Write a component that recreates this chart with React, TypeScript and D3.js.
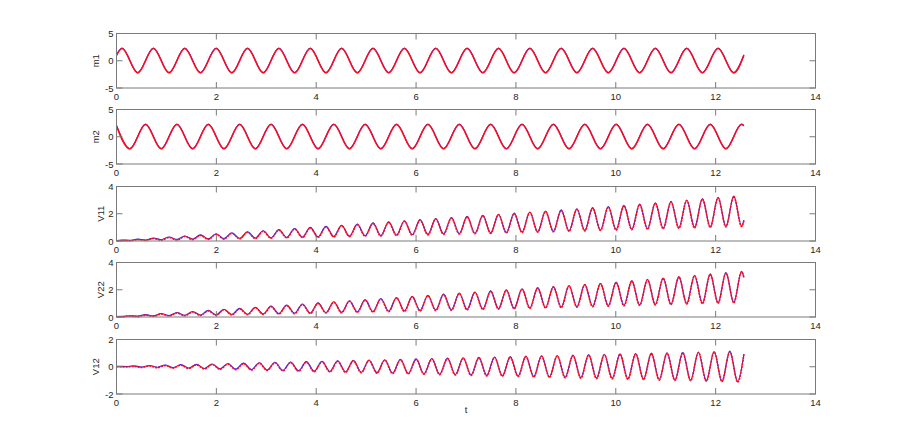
import React from "react";
import * as d3 from "d3";

// ---------- data ----------
const T_START = 0;
const T_END = 12.566;

// extremum times of m1 (peaks/troughs)
const M1_T = [0.111, 0.425, 0.739, 1.053, 1.367, 1.682, 1.996, 2.310, 2.624, 2.938, 3.252, 3.567, 3.881, 4.195, 4.509, 4.823, 5.137, 5.452, 5.766, 6.080, 6.394, 6.708, 7.022, 7.337, 7.651, 7.965, 8.279, 8.593, 8.907, 9.221, 9.536, 9.850, 10.164, 10.478, 10.792, 11.106, 11.421, 11.735, 12.049, 12.363];
const M1_V = [2.24, -2.24, 2.24, -2.24, 2.24, -2.24, 2.24, -2.24, 2.24, -2.24, 2.24, -2.24, 2.24, -2.24, 2.24, -2.24, 2.24, -2.24, 2.24, -2.24, 2.24, -2.24, 2.24, -2.24, 2.24, -2.24, 2.24, -2.24, 2.24, -2.24, 2.24, -2.24, 2.24, -2.24, 2.24, -2.24, 2.24, -2.24, 2.24, -2.24];
const M1_START = 1.0;
const M1_END = 1.0;

// extremum times of m2
const M2_T = [0.268, 0.582, 0.896, 1.210, 1.525, 1.839, 2.153, 2.467, 2.781, 3.095, 3.409, 3.724, 4.038, 4.352, 4.666, 4.980, 5.294, 5.609, 5.923, 6.237, 6.551, 6.865, 7.179, 7.494, 7.808, 8.122, 8.436, 8.750, 9.064, 9.379, 9.693, 10.007, 10.321, 10.635, 10.949, 11.264, 11.578, 11.892, 12.206, 12.520];
const M2_V = [-2.24, 2.24, -2.24, 2.24, -2.24, 2.24, -2.24, 2.24, -2.24, 2.24, -2.24, 2.24, -2.24, 2.24, -2.24, 2.24, -2.24, 2.24, -2.24, 2.24, -2.24, 2.24, -2.24, 2.24, -2.24, 2.24, -2.24, 2.24, -2.24, 2.24, -2.24, 2.24, -2.24, 2.24, -2.24, 2.24, -2.24, 2.24, -2.24, 2.24];
const M2_START = 2.0;
const M2_END = 2.0;

// extremum times shared by V11 and V22
const V_T = [0.111, 0.268, 0.425, 0.582, 0.739, 0.896, 1.053, 1.210, 1.367, 1.525, 1.682, 1.839, 1.996, 2.153, 2.310, 2.467, 2.624, 2.781, 2.938, 3.095, 3.252, 3.409, 3.567, 3.724, 3.881, 4.038, 4.195, 4.352, 4.509, 4.666, 4.823, 4.980, 5.137, 5.294, 5.452, 5.609, 5.766, 5.923, 6.080, 6.237, 6.394, 6.551, 6.708, 6.865, 7.022, 7.179, 7.337, 7.494, 7.651, 7.808, 7.965, 8.122, 8.279, 8.436, 8.593, 8.750, 8.907, 9.064, 9.221, 9.379, 9.536, 9.693, 9.850, 10.007, 10.164, 10.321, 10.478, 10.635, 10.792, 10.949, 11.106, 11.264, 11.421, 11.578, 11.735, 11.892, 12.049, 12.206, 12.363, 12.520];
const V11_V = [0.03, 0.02, 0.10, 0.04, 0.18, 0.06, 0.26, 0.08, 0.33, 0.10, 0.41, 0.12, 0.49, 0.14, 0.57, 0.16, 0.64, 0.18, 0.72, 0.20, 0.80, 0.23, 0.88, 0.25, 0.96, 0.27, 1.04, 0.30, 1.12, 0.32, 1.20, 0.35, 1.29, 0.37, 1.37, 0.40, 1.45, 0.43, 1.53, 0.45, 1.61, 0.48, 1.69, 0.51, 1.77, 0.53, 1.85, 0.56, 1.93, 0.59, 2.01, 0.62, 2.09, 0.65, 2.17, 0.68, 2.25, 0.71, 2.33, 0.74, 2.41, 0.77, 2.49, 0.80, 2.58, 0.83, 2.67, 0.86, 2.77, 0.90, 2.87, 0.93, 2.97, 0.96, 3.07, 1.00, 3.17, 1.03, 3.27, 1.06];
const V11_START = 0;
const V11_END = 1.50;
const V22_V = [0.01, 0.06, 0.03, 0.14, 0.05, 0.22, 0.07, 0.29, 0.09, 0.37, 0.11, 0.45, 0.13, 0.53, 0.15, 0.60, 0.17, 0.68, 0.19, 0.76, 0.22, 0.84, 0.24, 0.92, 0.26, 1.00, 0.29, 1.08, 0.31, 1.16, 0.34, 1.24, 0.36, 1.32, 0.39, 1.40, 0.41, 1.48, 0.44, 1.56, 0.47, 1.64, 0.49, 1.72, 0.52, 1.80, 0.55, 1.88, 0.58, 1.96, 0.60, 2.04, 0.63, 2.12, 0.66, 2.20, 0.69, 2.28, 0.72, 2.36, 0.75, 2.44, 0.79, 2.53, 0.82, 2.63, 0.85, 2.73, 0.88, 2.83, 0.91, 2.93, 0.95, 3.03, 0.98, 3.13, 1.01, 3.23, 1.05, 3.32];
const V22_START = 0;
const V22_END = 2.88;

// extremum times of V12
const V12_T = [0.032, 0.189, 0.346, 0.503, 0.661, 0.818, 0.975, 1.132, 1.289, 1.446, 1.603, 1.760, 1.917, 2.074, 2.231, 2.388, 2.546, 2.703, 2.860, 3.017, 3.174, 3.331, 3.488, 3.645, 3.802, 3.959, 4.116, 4.273, 4.430, 4.587, 4.745, 4.902, 5.059, 5.216, 5.373, 5.530, 5.687, 5.844, 6.001, 6.158, 6.315, 6.472, 6.629, 6.786, 6.944, 7.101, 7.258, 7.415, 7.572, 7.729, 7.886, 8.043, 8.200, 8.357, 8.514, 8.671, 8.828, 8.986, 9.143, 9.300, 9.457, 9.614, 9.771, 9.928, 10.085, 10.242, 10.399, 10.556, 10.713, 10.870, 11.027, 11.185, 11.342, 11.499, 11.656, 11.813, 11.970, 12.127, 12.284, 12.441];
const V12_V = [0.00, -0.02, 0.03, -0.05, 0.06, -0.07, 0.09, -0.10, 0.12, -0.13, 0.14, -0.16, 0.17, -0.19, 0.20, -0.21, 0.23, -0.24, 0.26, -0.27, 0.29, -0.30, 0.31, -0.33, 0.34, -0.36, 0.37, -0.38, 0.40, -0.41, 0.43, -0.44, 0.46, -0.47, 0.48, -0.50, 0.51, -0.53, 0.54, -0.55, 0.57, -0.58, 0.60, -0.61, 0.62, -0.64, 0.65, -0.67, 0.68, -0.70, 0.71, -0.72, 0.74, -0.75, 0.77, -0.78, 0.79, -0.81, 0.82, -0.84, 0.85, -0.87, 0.88, -0.89, 0.91, -0.92, 0.94, -0.95, 0.96, -0.98, 0.99, -1.01, 1.02, -1.03, 1.05, -1.06, 1.08, -1.09, 1.11, -1.12];
const V12_START = 0;
const V12_END = 0.90;

const X_TICKS = [0, 2, 4, 6, 8, 10, 12, 14];
const M_TICKS = [-5, 0, 5];
const V_TICKS = [0, 2, 4];
const V12_TICKS = [-2, 0, 2];
const PANEL_LABELS = ["m1", "m2", "V11", "V22", "V12"];

// ---------- layout ----------
const W = 900;
const H = 443;
const X_LEFT = 116.5;
const X_RIGHT = 815.5;
const PANEL_TOPS = [33.5, 109.5, 186.5, 262.5, 339.5];
const PANEL_H = 54.5;
const AXIS_COLOR = "#7a7a7a";
const TEXT_COLOR = "#262626";
const FONT = "'Liberation Sans', Arial, Helvetica, sans-serif";
const TICK_LEN = 6;

type Panel = {
  label: string;
  domain: [number, number];
  ticks: number[];
  t: number[];
  v: number[];
  start: number;
  end: number;
  labelX: number;
  dashed: boolean;
};

const panels: Panel[] = [
  { label: PANEL_LABELS[0], domain: [-5, 5], ticks: M_TICKS, t: M1_T, v: M1_V, start: M1_START, end: M1_END, labelX: 99, dashed: false },
  { label: PANEL_LABELS[1], domain: [-5, 5], ticks: M_TICKS, t: M2_T, v: M2_V, start: M2_START, end: M2_END, labelX: 99, dashed: false },
  { label: PANEL_LABELS[2], domain: [0, 4], ticks: V_TICKS, t: V_T, v: V11_V, start: V11_START, end: V11_END, labelX: 104, dashed: true },
  { label: PANEL_LABELS[3], domain: [0, 4], ticks: V_TICKS, t: V_T, v: V22_V, start: V22_START, end: V22_END, labelX: 104, dashed: true },
  { label: PANEL_LABELS[4], domain: [-2, 2], ticks: V12_TICKS, t: V12_T, v: V12_V, start: V12_START, end: V12_END, labelX: 99, dashed: true },
];

const x = d3.scaleLinear().domain([0, 14]).range([X_LEFT, X_RIGHT]);

function PanelView({ p, top }: { p: Panel; top: number }) {
  const y = d3.scaleLinear().domain(p.domain).range([top + PANEL_H, top]);
  const pts: [number, number][] = [[T_START, p.start]];
  p.t.forEach((t, i) => pts.push([t, p.v[i]]));
  pts.push([T_END, p.end]);
  const line = d3
    .line<[number, number]>()
    .x((d) => x(d[0]))
    .y((d) => y(d[1]))
    .curve(d3.curveMonotoneX);
  const d = line(pts) || "";
  const bottom = top + PANEL_H;
  return (
    <g>
      <path d={d} fill="none" stroke="#2a2aff" strokeWidth={1.1} transform="translate(0,-0.5)" />
      <path
        d={d}
        fill="none"
        stroke="#ff0a1a"
        strokeWidth={1.6}
        strokeDasharray={p.dashed ? "2.2 0.8" : undefined}
      />
      <rect x={X_LEFT} y={top} width={X_RIGHT - X_LEFT} height={PANEL_H} fill="none" stroke={AXIS_COLOR} strokeWidth={1} />
      {X_TICKS.map((t) => (
        <g key={"xt" + t}>
          <line x1={x(t)} x2={x(t)} y1={bottom} y2={bottom - TICK_LEN} stroke={AXIS_COLOR} />
          <line x1={x(t)} x2={x(t)} y1={top} y2={top + TICK_LEN} stroke={AXIS_COLOR} />
          <text x={x(t)} y={bottom + 11.5} textAnchor="middle" fontSize={9.5} fill={TEXT_COLOR} fontFamily={FONT}>
            {t}
          </text>
        </g>
      ))}
      {p.ticks.map((v) => (
        <g key={"yt" + v}>
          <line x1={X_LEFT} x2={X_LEFT + TICK_LEN} y1={y(v)} y2={y(v)} stroke={AXIS_COLOR} />
          <line x1={X_RIGHT} x2={X_RIGHT - TICK_LEN} y1={y(v)} y2={y(v)} stroke={AXIS_COLOR} />
          <text x={X_LEFT - 3} y={y(v) + 3.5} textAnchor="end" fontSize={9.5} fill={TEXT_COLOR} fontFamily={FONT}>
            {v}
          </text>
        </g>
      ))}
      <text
        transform={`translate(${p.labelX},${top + PANEL_H / 2}) rotate(-90)`}
        textAnchor="middle"
        fontSize={9.5}
        fill={TEXT_COLOR}
        fontFamily={FONT}
      >
        {p.label}
      </text>
    </g>
  );
}

export default function App() {
  return (
    <svg width={W} height={H} style={{ position: "absolute", left: 0, top: 0, background: "#fff" }}>
      <rect x={0} y={0} width={W} height={H} fill="#fff" />
      {panels.map((p, i) => (
        <PanelView key={p.label} p={p} top={PANEL_TOPS[i]} />
      ))}
      <text x={(X_LEFT + X_RIGHT) / 2} y={413} textAnchor="middle" fontSize={9.5} fill={TEXT_COLOR} fontFamily={FONT}>
        t
      </text>
    </svg>
  );
}
